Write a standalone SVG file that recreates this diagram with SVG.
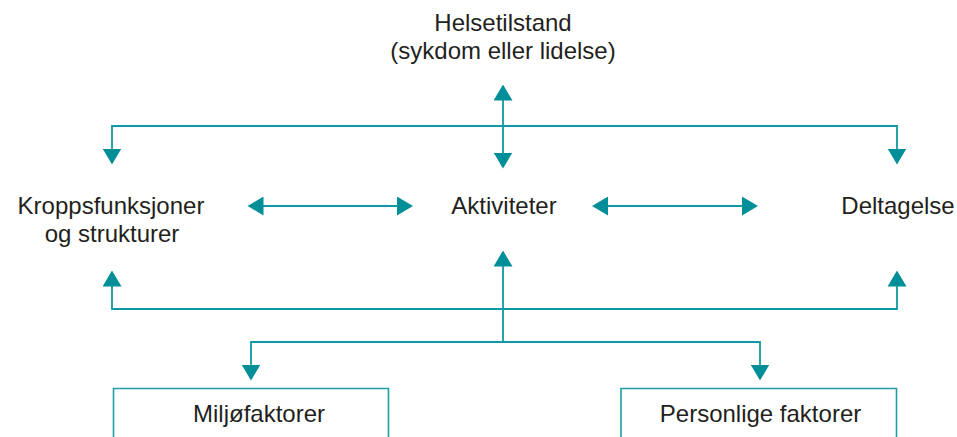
<svg xmlns="http://www.w3.org/2000/svg" width="957" height="437" viewBox="0 0 957 437">
<style>
.t{font-family:"Liberation Sans",Arial,Helvetica,sans-serif;font-size:24px;fill:#231f20;text-anchor:middle}
.c{fill:none;stroke:#0d9aa2;stroke-width:1.8}
.b{fill:none;stroke:#1f9ea6;stroke-width:1.6}
</style>
<defs>
<marker id="ah" viewBox="0 0 16 19" refX="0.5" refY="9.5" markerWidth="16" markerHeight="19" markerUnits="userSpaceOnUse" orient="auto-start-reverse">
<path d="M0,0 L16,9.5 L0,19 Z" fill="#008f98"/>
</marker>
</defs>
<g id="connectors">
<path class="c" d="M112,126 H897"/>
<path class="c" d="M112,125.1 V149" marker-end="url(#ah)"/>
<path class="c" d="M897,125.1 V149" marker-end="url(#ah)"/>
<path class="c" d="M503,100 V153" marker-start="url(#ah)" marker-end="url(#ah)"/>
<path class="c" d="M263,206 H397.5" marker-start="url(#ah)" marker-end="url(#ah)"/>
<path class="c" d="M607.5,206 H742.5" marker-start="url(#ah)" marker-end="url(#ah)"/>
<path class="c" d="M112,286 V309 H897 V286" marker-start="url(#ah)" marker-end="url(#ah)"/>
<path class="c" d="M503,266 V342" marker-start="url(#ah)"/>
<path class="c" d="M251,342 H760"/>
<path class="c" d="M251,341.1 V365" marker-end="url(#ah)"/>
<path class="c" d="M760,341.1 V365" marker-end="url(#ah)"/>
</g>
<g id="helsetilstand">
<text class="t" x="503" y="31">Helsetilstand</text>
<text class="t" x="503" y="59">(sykdom eller lidelse)</text>
</g>
<g id="kroppsfunksjoner">
<text class="t" x="111" y="214">Kroppsfunksjoner</text>
<text class="t" x="112" y="241.5">og strukturer</text>
</g>
<g id="aktiviteter">
<text class="t" x="504" y="213.5">Aktiviteter</text>
</g>
<g id="deltagelse">
<text class="t" x="898" y="213.5">Deltagelse</text>
</g>
<g id="miljofaktorer">
<path class="b" d="M113.5,445 V388.5 H388.5 V445"/>
<text class="t" x="259" y="421.5">Miljøfaktorer</text>
</g>
<g id="personlige">
<path class="b" d="M621,445 V388.5 H896.5 V445"/>
<text class="t" x="760.5" y="421.5">Personlige faktorer</text>
</g>
</svg>
